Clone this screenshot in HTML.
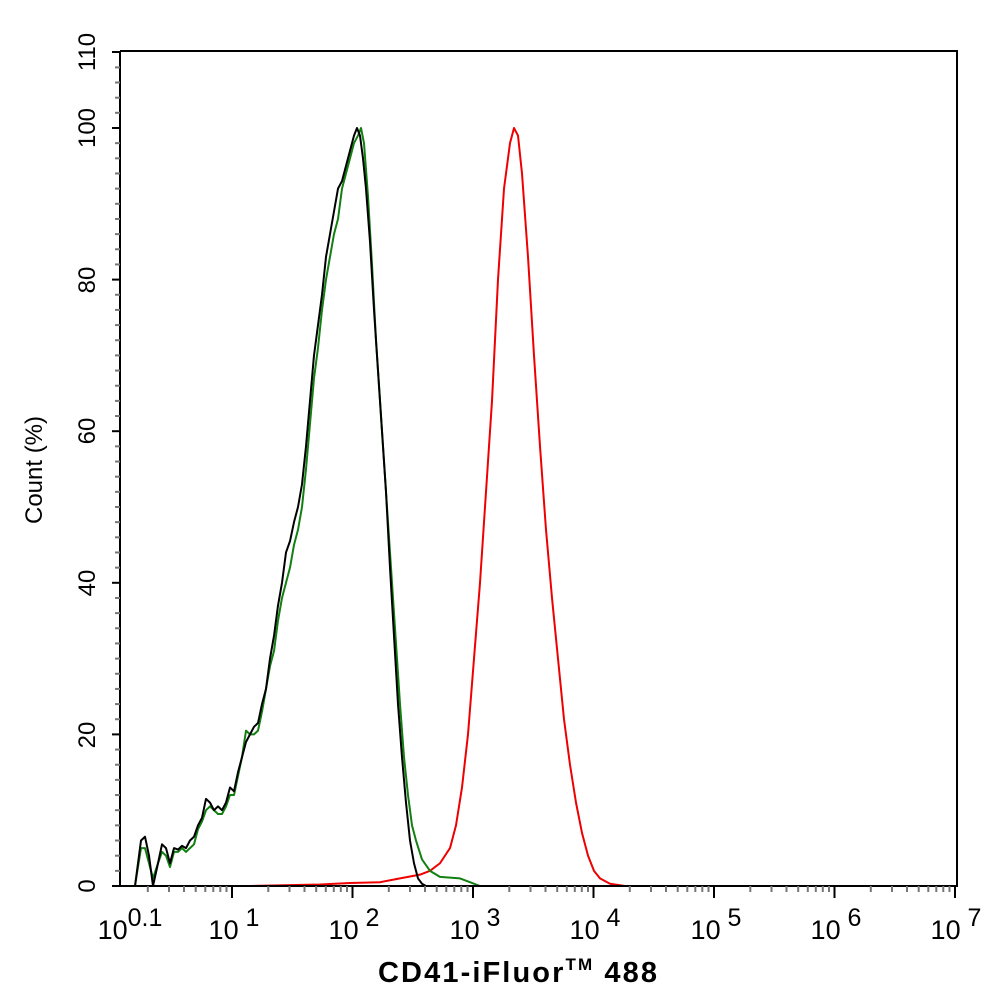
<!DOCTYPE html>
<html><head><style>body{margin:0;background:#fff}svg{display:block}text{font-family:"Liberation Sans",sans-serif}</style></head>
<body>
<svg width="994" height="1002" viewBox="0 0 994 1002" xmlns="http://www.w3.org/2000/svg" xmlns:xlink="http://www.w3.org/1999/xlink">
<rect width="994" height="1002" fill="#fff"/>
<defs>
<g id="xm" stroke="#777" stroke-width="2">
<line x1="36.3" y1="886" x2="36.3" y2="892"/><line x1="57.5" y1="886" x2="57.5" y2="892"/><line x1="72.5" y1="886" x2="72.5" y2="892"/><line x1="84.2" y1="886" x2="84.2" y2="892"/><line x1="93.8" y1="886" x2="93.8" y2="892"/><line x1="101.8" y1="886" x2="101.8" y2="892"/><line x1="108.8" y1="886" x2="108.8" y2="892"/><line x1="115" y1="886" x2="115" y2="892"/>
</g>
<g id="ym" stroke="#777" stroke-width="2">
<line x1="115" y1="-15.16" x2="120" y2="-15.16"/><line x1="115" y1="-30.32" x2="120" y2="-30.32"/><line x1="115" y1="-45.48" x2="120" y2="-45.48"/><line x1="115" y1="-60.64" x2="120" y2="-60.64"/><line x1="115" y1="-75.8" x2="120" y2="-75.8"/><line x1="115" y1="-90.96" x2="120" y2="-90.96"/><line x1="115" y1="-106.12" x2="120" y2="-106.12"/><line x1="115" y1="-121.28" x2="120" y2="-121.28"/><line x1="115" y1="-136.44" x2="120" y2="-136.44"/>
</g>
</defs>
<g fill="none" stroke-width="2" stroke-linejoin="round">
<g transform="translate(0,886) scale(1,-7.58)">
<polyline vector-effect="non-scaling-stroke" stroke="#e00" points="250,0 320,0.2 350,0.4 380,0.5 400,1 420,1.5 430,2 440,3 450,5 456,8 462,13 468,20 474,30 480,40 486,52 492,64 498,80 504,92 510,98 514,100 518,99 522,94 528,83 534,70 540,58 546,47 552,38 558,30 564,22 570,16 576,11 582,7 588,4 594,2 600,1 610,0.3 625,0"/>
<polyline vector-effect="non-scaling-stroke" stroke="#118011" points="135,0 141,5 145,5 149,3 153,1 158,3 162,4.5 166,4 170,2.5 174,4.5 178,4.5 182,5 186,4.5 190,5 194,5.5 198,7.5 202,8.5 206,10 210,10.5 214,10 218,9.5 222,9.5 226,10.5 230,12 234,12 238,14.5 242,17 246,20.5 250,20 254,20 258,20.5 262,23 266,26 270,29 274,31 278,35 282,38 286,40 290,42 294,45 298,47 302,50 306,55 310,61 314,67 318,71 322,76 326,80 330,83 334,86 338,88 342,92 346,94 350,96 354,98 358,99 361,100 364,98 368,91 372,82 376,72 380,64 384,56 388,48 392,40 396,32 400,24 404,17 408,12 412,8 416,6 422,3.5 430,2 440,1.2 460,1 470,0.5 480,0"/>
<polyline vector-effect="non-scaling-stroke" stroke="#000" points="135,0 141,6 145,6.5 149,4 153,0 158,3 162,5.5 166,5 170,3 174,5 178,4.8 182,5.3 186,5 190,6 194,6.5 198,8 202,9 206,11.5 210,11 214,10 218,10.5 222,10 226,11 230,13 234,12.5 238,15 242,17 246,19 250,20 254,21 258,21.5 262,24 266,26 270,30 274,33 278,37 282,40 286,44 290,45.5 294,48 298,50 302,53 306,58 310,64 314,70 318,74 322,78 326,83 330,86 334,89 338,92 342,93 346,95 350,97 354,99 357,100 360,99 363,96 366,92 370,85 374,76 378,68 382,60 386,52 390,42 394,33 398,24 402,17 406,11 410,6 414,3 418,1 422,0.3 426,0"/>
</g></g>
<polyline points="120,51 957,51 957,886 120,886 120,51" stroke="#000" stroke-width="2" fill="none"/>
<use xlink:href="#xm" href="#xm" x="111.5"/>
<use xlink:href="#xm" href="#xm" x="232"/>
<use xlink:href="#xm" href="#xm" x="352.5"/>
<use xlink:href="#xm" href="#xm" x="473"/>
<use xlink:href="#xm" href="#xm" x="593.5"/>
<use xlink:href="#xm" href="#xm" x="714"/>
<use xlink:href="#xm" href="#xm" x="834.5"/>
<g stroke="#000" stroke-width="2">
<line x1="232" y1="886" x2="232" y2="898"/><line x1="352.5" y1="886" x2="352.5" y2="898"/><line x1="473" y1="886" x2="473" y2="898"/><line x1="593.5" y1="886" x2="593.5" y2="898"/><line x1="714" y1="886" x2="714" y2="898"/><line x1="834.5" y1="886" x2="834.5" y2="898"/><line x1="955" y1="886" x2="955" y2="898"/>
<line x1="112" y1="886" x2="120" y2="886"/><line x1="112" y1="734.4" x2="120" y2="734.4"/><line x1="112" y1="582.8" x2="120" y2="582.8"/><line x1="112" y1="431.2" x2="120" y2="431.2"/><line x1="112" y1="279.6" x2="120" y2="279.6"/><line x1="112" y1="128" x2="120" y2="128"/><line x1="112" y1="52" x2="120" y2="52"/>
</g>
<use xlink:href="#ym" href="#ym" y="886"/>
<use xlink:href="#ym" href="#ym" y="734.4"/>
<use xlink:href="#ym" href="#ym" y="582.8"/>
<use xlink:href="#ym" href="#ym" y="431.2"/>
<use xlink:href="#ym" href="#ym" y="279.6"/>
<g stroke="#777" stroke-width="2"><line x1="115" y1="112.8" x2="120" y2="112.8"/><line x1="115" y1="97.7" x2="120" y2="97.7"/><line x1="115" y1="82.5" x2="120" y2="82.5"/><line x1="115" y1="67.4" x2="120" y2="67.4"/></g>
<text font-size="24" text-anchor="middle" transform="translate(42,470) rotate(-90)">Count  (%)</text>
<g font-size="24" text-anchor="middle">
<text transform="translate(95,886) rotate(-90)">0</text>
<text transform="translate(95,735) rotate(-90)">20</text>
<text transform="translate(95,583) rotate(-90)">40</text>
<text transform="translate(95,431) rotate(-90)">60</text>
<text transform="translate(95,280) rotate(-90)">80</text>
<text transform="translate(95,128) rotate(-90)">100</text>
<text transform="translate(95,52) rotate(-90)">110</text>
</g>
<g font-size="27" text-anchor="middle">
<text x="130" y="939">10<tspan dy="-13" font-size="25">0.1</tspan></text>
<text x="234" y="939">10<tspan dy="-13" font-size="25"> 1</tspan></text>
<text x="354" y="939">10<tspan dy="-13" font-size="25"> 2</tspan></text>
<text x="475" y="939">10<tspan dy="-13" font-size="25"> 3</tspan></text>
<text x="595" y="939">10<tspan dy="-13" font-size="25"> 4</tspan></text>
<text x="716" y="939">10<tspan dy="-13" font-size="25"> 5</tspan></text>
<text x="836" y="939">10<tspan dy="-13" font-size="25"> 6</tspan></text>
<text x="956" y="939">10<tspan dy="-13" font-size="25"> 7</tspan></text>
</g>
<text x="378" y="982" font-size="29" font-weight="bold" textLength="279" lengthAdjust="spacing">CD41-iFluor<tspan font-size="17" dy="-12">TM</tspan><tspan dy="12"> 488</tspan></text>
</svg>
</body></html>
